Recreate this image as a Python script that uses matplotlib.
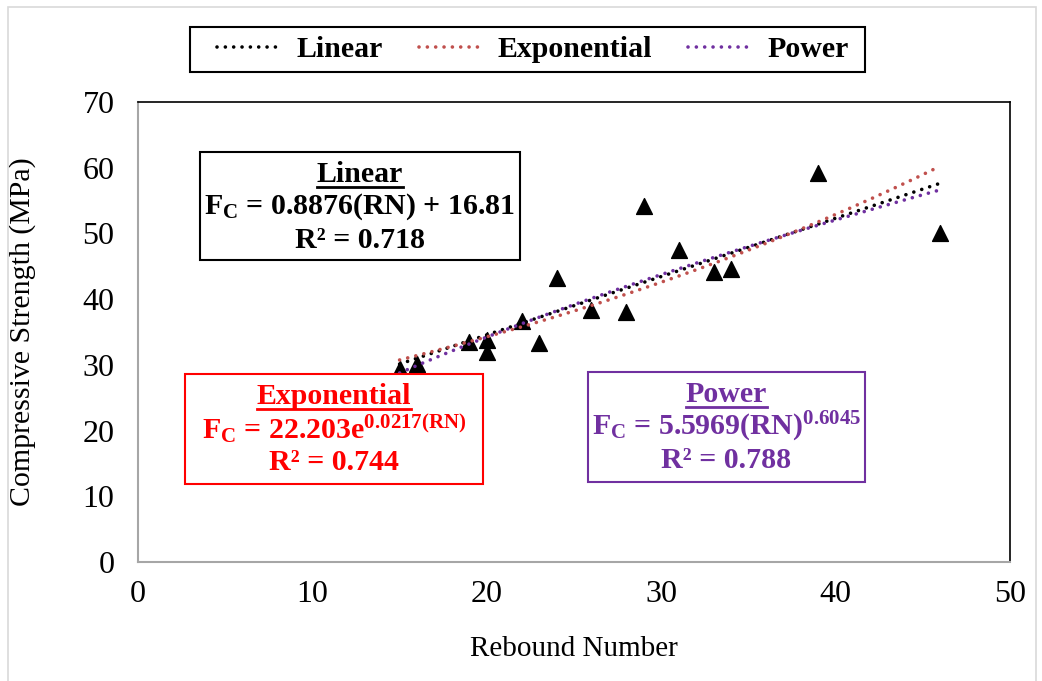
import numpy as np
import matplotlib
matplotlib.use('Agg')
import matplotlib.pyplot as plt
from matplotlib.patches import Rectangle
from matplotlib.lines import Line2D

# Measured data (rebound number vs compressive strength)
rebound = [15, 16, 19, 20, 20, 22, 23, 24, 26, 28, 29, 31, 33, 34, 39, 46]
strength = [29.3, 30.2, 33.5, 33.8, 31.9, 36.6, 33.3, 43.2, 38.3, 38.0, 54.1, 47.5, 44.2, 44.6, 59.2, 50.1]

# Trendline coefficients shown on the chart
lin_a, lin_b = 0.8876, 16.81
exp_a, exp_b = 22.203, 0.0217
pow_a, pow_b = 5.5969, 0.6045

W, H = 1042, 681
plt.rcParams['font.family'] = ['Liberation Serif', 'DejaVu Serif']
plt.rcParams['mathtext.fontset'] = 'custom'
plt.rcParams['mathtext.rm'] = 'Liberation Serif'
plt.rcParams['mathtext.bf'] = 'Liberation Serif:bold'
plt.rcParams['mathtext.it'] = 'Liberation Serif:italic'


def px(x, y):
    # pixel position (from top-left) -> figure fraction
    return x / W, 1 - y / H


fig = plt.figure(figsize=(W / 100, H / 100), dpi=100)
ax = fig.add_axes([138 / W, 1 - 562 / H, 872 / W, 460 / H])

# outer chart frame
fig.patches.append(Rectangle(px(8, 690), 1028 / W, 683 / H, transform=fig.transFigure,
                             fill=False, edgecolor='#d9d9d9', lw=1.2))

ax.scatter(rebound, strength, marker='^', s=130, color='black', zorder=3)

xs = np.linspace(min(rebound), max(rebound), 200)
dots = (0, (0.01, 2.3))
ax.plot(xs, lin_a * xs + lin_b, color='black', lw=2.6, ls=dots,
        dash_capstyle='round', zorder=4)
ax.plot(xs, exp_a * np.exp(exp_b * xs), color='#C0504D', lw=2.6, ls=dots,
        dash_capstyle='round', zorder=4)
ax.plot(xs, pow_a * xs ** pow_b, color='#7030A0', lw=2.6, ls=dots,
        dash_capstyle='round', zorder=4)

ax.set_xlim(0, 50)
ax.set_ylim(0, 70)
ax.set_xticks(range(0, 51, 10))
ax.set_yticks(range(0, 71, 10))
ax.tick_params(length=0, labelsize=23)
ax.tick_params(axis='y', pad=17)
ax.tick_params(axis='x', pad=13)
for s in ['left', 'bottom']:
    ax.spines[s].set_color('#a6a6a6')
    ax.spines[s].set_linewidth(1.5)
for s in ['top', 'right']:
    ax.spines[s].set_color('black')
    ax.spines[s].set_linewidth(1.2)

ax.set_xlabel('Rebound Number', fontsize=21)
ax.set_ylabel('Compressive Strength (MPa)', fontsize=21.5)
ax.xaxis.set_label_coords(0.5, -(636 - 562) / 460)
ax.yaxis.set_label_coords(-(138 - 36) / 872, 0.5)

# legend (frame drawn by hand to get the wide side padding)
leg_lines = [Line2D([], [], color=c, lw=2.6, ls=dots, dash_capstyle='round')
             for c in ['black', '#C0504D', '#7030A0']]
leg = fig.legend(leg_lines, ['Linear', 'Exponential', 'Power'], ncol=3,
                 loc='center', bbox_to_anchor=px(533, 49.5),
                 prop={'weight': 'bold', 'size': 21.5}, frameon=False,
                 handlelength=2.1, handletextpad=0.55, columnspacing=1.2)
fig.patches.append(Rectangle(px(190, 72), 675 / W, 45 / H, transform=fig.transFigure,
                             fill=False, edgecolor='black', lw=1.5))

# equation boxes
boxes = [
    ('Linear', 'black', (200, 152, 520, 260),
     r'$\mathbf{F_{C}}$' + ' = 0.8876(RN) + 16.81', 'R² = 0.718'),
    ('Exponential', '#FF0000', (185, 374, 483, 484),
     r'$\mathbf{F_{C}}$' + ' = 22.203e' + r'$\mathbf{^{0.0217(RN)}}$', 'R² = 0.744'),
    ('Power', '#7030A0', (588, 372, 865, 482),
     r'$\mathbf{F_{C}}$' + ' = 5.5969(RN)' + r'$\mathbf{^{0.6045}}$', 'R² = 0.788'),
]
titles = []
for name, col, (x0, y0, x1, y1), eq, rr in boxes:
    fig.patches.append(Rectangle(px(x0, y1), (x1 - x0) / W, (y1 - y0) / H,
                                 transform=fig.transFigure, facecolor='white',
                                 edgecolor=col, lw=1.5, zorder=6))
    cx = (x0 + x1) / 2
    t = fig.text(*px(cx, y0 + 22), name, color=col, fontsize=21.5, weight='bold',
                 ha='center', va='center', zorder=7)
    titles.append((t, col))
    fig.text(*px(cx, y0 + 55), eq, color=col, fontsize=21.5, weight='bold',
             ha='center', va='center', zorder=7)
    fig.text(*px(cx, y0 + 89), rr, color=col, fontsize=21.5, weight='bold',
             ha='center', va='center', zorder=7)

# underline the box titles
fig.canvas.draw()
r = fig.canvas.get_renderer()
for t, col in titles:
    bb = t.get_window_extent(r)
    yb = bb.y0 + 1
    fig.lines.append(Line2D([bb.x0 / W, bb.x1 / W], [yb / H, yb / H],
                            transform=fig.transFigure, color=col, lw=2, zorder=7))

fig.savefig('out.png', dpi=100)
